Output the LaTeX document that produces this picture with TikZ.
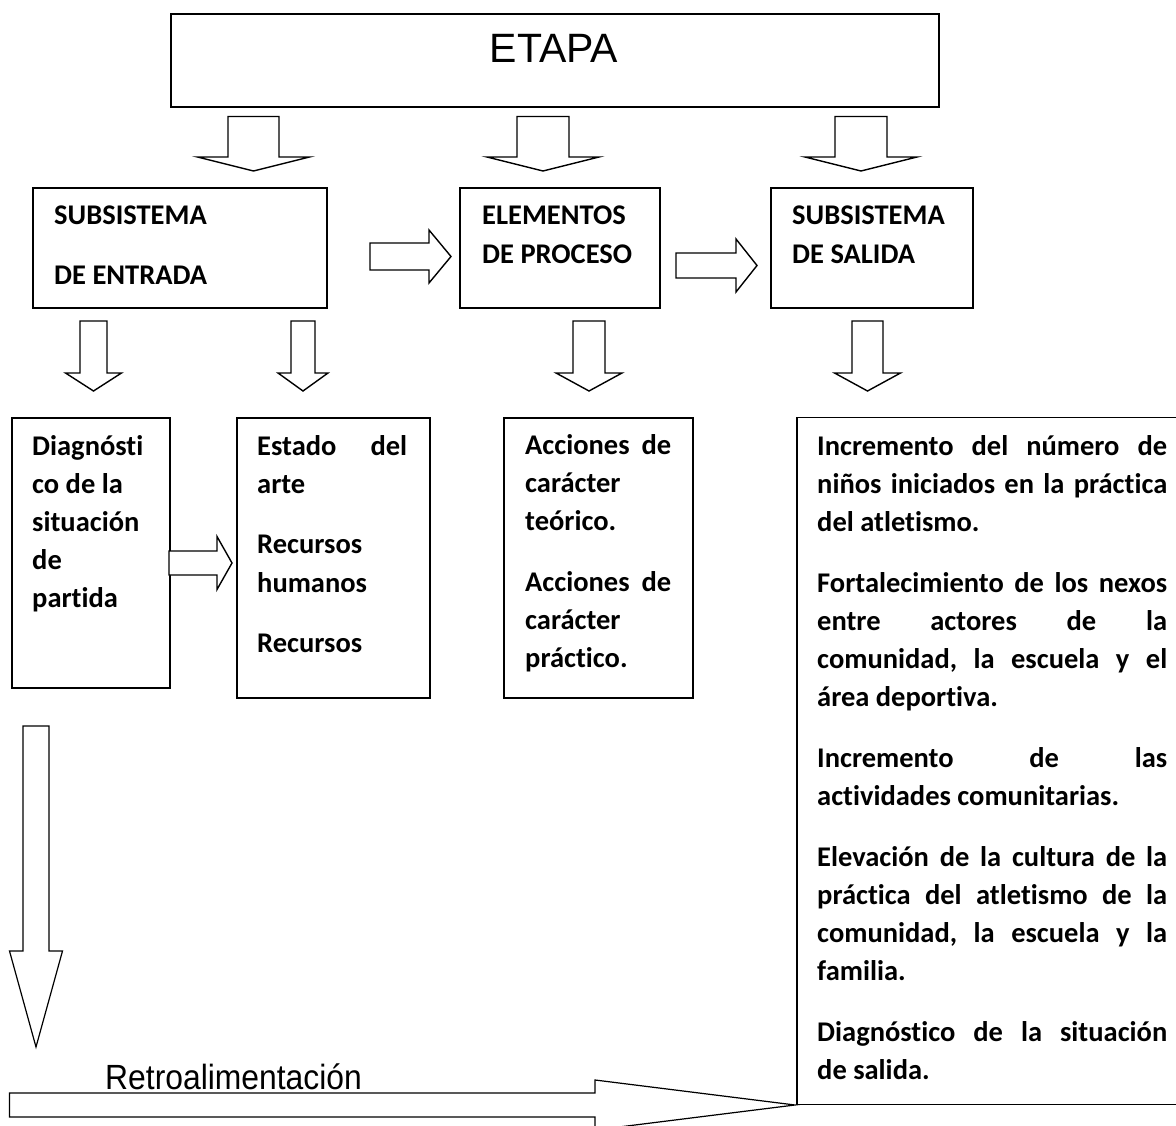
\documentclass[tikz,border=0pt]{standalone}
\usepackage{fontspec}
\setmainfont{Carlito}[Ligatures=NoCommon]
\newfontfamily\arialf{Liberation Sans}
\newcommand\JL[1]{\hbox to \linewidth{#1}}
\newcommand\RL[1]{\hbox{#1}}
\newcommand\PG{\vskip 22.5pt}
\newcommand\DArr[6]{% cx, shaft half, wing half, y top, y wing, y tip
  \draw[blk] ({#1-#2},#4) -- ({#1+#2},#4) -- ({#1+#2},#5) -- ({#1+#3},#5) -- (#1,#6)
    -- ({#1-#3},#5) -- ({#1-#2},#5) -- cycle;}
\newcommand\RArr[6]{% x start, x head, x tip, cy, shaft half, head half
  \draw[blk] (#1,{#4-#5}) -- (#2,{#4-#5}) -- (#2,{#4-#6}) -- (#3,#4) -- (#2,{#4+#6})
    -- (#2,{#4+#5}) -- (#1,{#4+#5}) -- cycle;}
\begin{document}
\begin{tikzpicture}[x=1pt,y=-1pt,
  box/.style={draw, line width=1.7pt, inner sep=0pt, anchor=north west},
  blk/.style={draw, line width=1.4pt, fill=white, line join=miter},
  txt/.style={inner sep=0pt, anchor=base west, font=\bfseries\fontsize{28.5}{38.2}\selectfont}]
\useasboundingbox (0,0) rectangle (1176,1126);
\fill[white] (0,0) rectangle (1176,1126);

% boxes
\node[box, minimum width=768pt, minimum height=93.5pt] (etapa) at (170,13) {};
\node[box, minimum width=294pt, minimum height=120pt] (entrada) at (32,187) {};
\node[box, minimum width=200pt, minimum height=120pt] (elem) at (459,187) {};
\node[box, minimum width=202pt, minimum height=120pt] (salida) at (770,187) {};
\node[box, minimum width=158pt, minimum height=270pt] (diag) at (11,417) {};
\node[box, minimum width=193pt, minimum height=280pt] (estado) at (236,417) {};
\node[box, minimum width=189pt, minimum height=280pt] (acc) at (503,417) {};
\node[box, minimum width=420pt, minimum height=687pt] (res) at (796,416.5) {};

% texts
\node[inner sep=0pt, anchor=base, font=\arialf\fontsize{41}{41}\selectfont] (etapaT) at (554,63) {ETAPA};
\node[txt] (entradaT1) at (54,225) {SUBSISTEMA};
\node[txt] (entradaT2) at (54,285) {DE ENTRADA};
\node[txt] (elemT1) at (482,225) {ELEMENTOS};
\node[txt] (elemT2) at (482,263.5) {DE PROCESO};
\node[txt] (salidaT1) at (792,225) {SUBSISTEMA};
\node[txt] (salidaT2) at (792,264) {DE SALIDA};

\node[txt] (diagT) at (32,455) {\parbox[t]{120pt}{%
  \RL{Diagnósti}\RL{co de la}\RL{situación}\RL{de}\RL{partida}}};
\node[txt] (estadoT) at (257,455) {\parbox[t]{150pt}{%
  \JL{Estado\hfill del}\RL{arte}\PG
  \RL{Recursos}\RL{humanos}\PG
  \RL{Recursos}}};
\node[txt] (accT) at (525,454) {\parbox[t]{146pt}{%
  \JL{Acciones\hfill de}\RL{carácter}\RL{teórico.}\PG
  \JL{Acciones\hfill de}\RL{carácter}\RL{práctico.}}};
\node[txt] (resT) at (817,455) {\parbox[t]{350pt}{%
  \JL{Incremento\hfill del\hfill número\hfill de}
  \JL{niños\hfill iniciados\hfill en\hfill la\hfill práctica}
  \RL{del atletismo.}\PG
  \JL{Fortalecimiento\hfill de\hfill los\hfill nexos}
  \JL{entre\hfill actores\hfill de\hfill la}
  \JL{comunidad,\hfill la\hfill escuela\hfill y\hfill el}
  \RL{área deportiva.}\PG
  \JL{Incremento\hfill de\hfill las}
  \RL{actividades comunitarias.}\PG
  \JL{Elevación\hfill de\hfill la\hfill cultura\hfill de\hfill la}
  \JL{práctica\hfill del\hfill atletismo\hfill de\hfill la}
  \JL{comunidad,\hfill la\hfill escuela\hfill y\hfill la}
  \RL{familia.}\PG
  \JL{Diagnóstico\hfill de\hfill la\hfill situación}
  \RL{de salida.}}};

% block arrows: ETAPA -> subsystems
\DArr{253.5}{25.5}{56}{116.5}{157}{171}
\DArr{543}{26}{56}{116.5}{157}{171}
\DArr{861}{26}{56}{116.5}{157}{171}
% horizontal arrows between subsystems
\RArr{370}{429}{451}{256.5}{13.5}{26.5}
\RArr{676}{736}{757}{265.5}{12.5}{26.5}
% subsystems -> lower boxes
\DArr{93.5}{13.5}{28}{321}{373}{391}
\DArr{303}{12}{25}{321}{373}{391}
\DArr{589}{16}{33}{321}{373}{391}
\DArr{867.5}{15.5}{33}{321}{373}{391}
% diag -> estado
\RArr{169}{217}{232}{563}{12}{26.5}
% feedback
\begin{scope}[blk/.append style={line width=1.2pt}]
\DArr{36}{13}{26.5}{726}{951}{1047}
\RArr{9.5}{595}{795}{1105}{12}{25}
\end{scope}
\node[inner sep=0pt, anchor=base west, font=\arialf\fontsize{35}{35}\selectfont] (retroT) at (105,1089)
  {\scalebox{0.91}[1]{Retroalimentación}};
\end{tikzpicture}
\end{document}
